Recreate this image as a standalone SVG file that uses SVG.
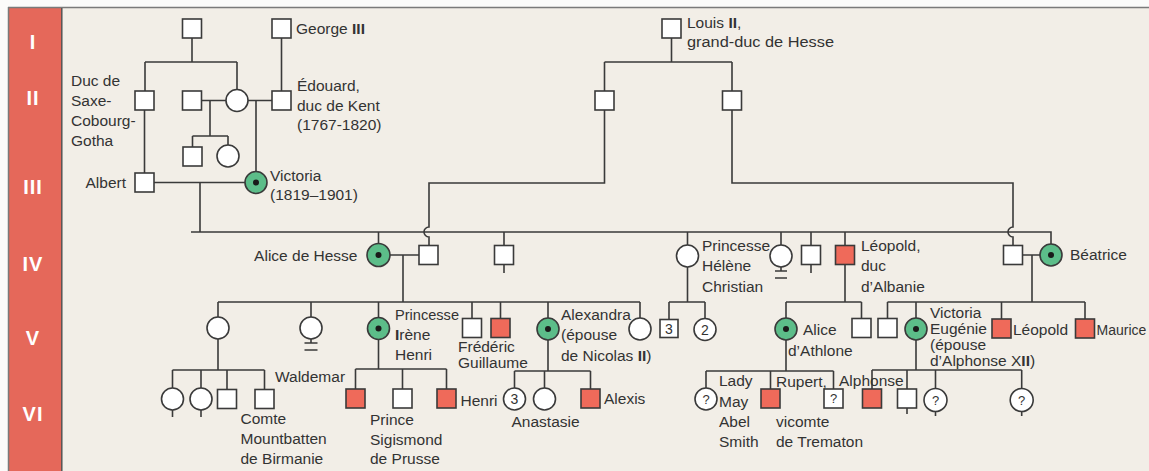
<svg xmlns="http://www.w3.org/2000/svg" width="1149" height="471" viewBox="0 0 1149 471">
<style>
.ln{fill:none;stroke:#3a3a3a;stroke-width:1.6}
.n{fill:#fff;stroke:#3a3a3a;stroke-width:1.6}
.aff{fill:#EF6A5A}
.car{fill:#5CBD89}
.dot{fill:#1a1a1a}
text{font-family:"Liberation Sans",Arial,Helvetica,sans-serif;font-size:15.5px;fill:#333}
.gen{fill:#fff;font-size:20px;font-weight:bold;text-anchor:middle;letter-spacing:1px}
.sym{font-size:14px;text-anchor:middle}
.q{font-size:13px;text-anchor:middle}
.end{text-anchor:end}
</style>
<rect x="0" y="0" width="1149" height="471" fill="#fbfbfa"/>
<rect x="62" y="8" width="1087" height="463" fill="#F2EEE7"/>
<rect x="9" y="8" width="53" height="463" fill="#E5685A"/>
<path d="M8,7.5 H1149 M8.5,7 V471" stroke="#7a7a7a" stroke-width="1.5" fill="none"/>
<path d="M61.8,8 V471" stroke="#555" stroke-width="1.5" fill="none"/>
<g id="generations">
<text class="gen" x="33" y="49">I</text>
<text class="gen" x="33" y="105">II</text>
<text class="gen" x="33" y="194">III</text>
<text class="gen" x="33" y="270.5">IV</text>
<text class="gen" x="33" y="345">V</text>
<text class="gen" x="33" y="420.5">VI</text>
</g>
<g id="connectors" class="ln">
<path d="M192,38 V62 M145,62 H237 M145,62 V91 M237,62 V89.5"/>
<path d="M281.5,38 V91"/>
<path d="M201.5,100.5 H226 M210,100.5 V136 M192.5,136 H228 M192.5,136 V147 M228,136 V145"/>
<path d="M248,100.5 H272 M256,100.5 V171.5"/>
<path d="M144.5,110 V173"/>
<path d="M154,182.5 H245 M200,182.5 V232"/>
<path d="M191,232 H1051 V244 M378.5,232 V243.5 M504,232 V245.5 M687.5,232 V245 M781,232 V245 M811,232 V245.5 M845,232 V245.5"/>
<path d="M671.5,38 V62 M604.5,62 H732 M604.5,62 V91 M732,62 V91"/>
<path d="M604.5,110 V183 H429 V227 A5,5 0 0 0 429,237 V245.5"/>
<path d="M732,110 V183 H1013 V227 A5,5 0 0 0 1013,237 V245.5"/>
<path d="M390,255 H419 M403,255 V302"/>
<path d="M218,302 H640 M218,302 V317 M311,302 V317 M378.5,302 V317.5 M472,302 V318.5 M500.5,302 V318.5 M548,302 V318 M640,302 V318"/>
<path d="M687.5,267 V302 M669,302 H705 M669,302 V319.5 M705,302 V318.5"/>
<path d="M845,264.5 V302 M786,302 H861.5 M786,302 V318 M861.5,302 V318.5"/>
<path d="M1023,255 H1040 M1032,255 V302 M887.5,302 H1085 M887.5,302 V318.5 M916,302 V318 M1001.5,302 V319 M1085,302 V319"/>
<path d="M218,339 V370 M172.5,370 H264.5 M172.5,370 V388 M201,370 V388 M227,370 V389.5 M264.5,370 V389.5"/>
<path d="M378.5,340 V369 M355.5,369 H446.5 M355.5,369 V389 M402.5,369 V389 M446.5,369 V389"/>
<path d="M548,340 V371 M514.5,371 H590.5 M514.5,371 V388 M544.5,371 V388 M590.5,371 V389"/>
<path d="M786,340 V371 M706,371 H833.5 M706,371 V388 M770.5,371 V389 M833.5,371 V389"/>
<path d="M916,340 V370 M872,370 H1021.7 M872,370 V389 M907,370 V389 M935.5,370 V389 M1021.7,370 V389"/>
</g>
<g id="n-gen1-father"><rect class="n" x="182.5" y="19" width="19" height="19"/></g>
<g id="n-george3"><rect class="n" x="272" y="19" width="19" height="19"/><text x="296" y="33.5">George <tspan font-weight="bold">III</tspan></text></g>
<g id="n-louis2"><rect class="n" x="662" y="19" width="19" height="19"/><text x="687" y="27.5">Louis <tspan font-weight="bold">II</tspan>,</text><text x="687" y="47" textLength="147" lengthAdjust="spacingAndGlyphs">grand-duc de Hesse</text></g>
<g id="n-duc-saxe"><rect class="n" x="135" y="91" width="19" height="19"/><text x="71" y="85.5">Duc de</text><text x="71" y="105.5">Saxe-</text><text x="71" y="125.5">Cobourg-</text><text x="71" y="145.5">Gotha</text></g>
<g id="n-first-husband"><rect class="n" x="182.5" y="91" width="19" height="19"/></g>
<g id="n-victoria-mother"><circle class="n" cx="237" cy="100.5" r="11"/></g>
<g id="n-edouard"><rect class="n" x="272" y="91" width="19" height="19"/><text x="297" y="91">Édouard,</text><text x="297" y="110.5">duc de Kent</text><text x="297" y="130">(1767-1820)</text></g>
<g id="n-hesse1"><rect class="n" x="595" y="91" width="19" height="19"/></g>
<g id="n-hesse2"><rect class="n" x="722.5" y="91" width="19" height="19"/></g>
<g id="n-halfbrother"><rect class="n" x="183" y="147" width="19" height="19"/></g>
<g id="n-halfsister"><circle class="n" cx="228" cy="156" r="11"/></g>
<g id="n-albert"><rect class="n" x="135" y="173" width="19" height="19"/><text class="end" x="126" y="187.5">Albert</text></g>
<g id="n-victoria"><circle class="n car" cx="256" cy="182.5" r="11"/><circle class="dot" cx="256" cy="182.5" r="3"/><text x="270" y="180.5">Victoria</text><text x="270" y="200">(1819–1901)</text></g>
<g id="n-alice-hesse"><circle class="n car" cx="378.5" cy="255" r="11.5"/><circle class="dot" cx="378.5" cy="255" r="3"/><text class="end" x="357.5" y="260.5">Alice de Hesse</text></g>
<g id="n-alice-husband"><rect class="n" x="419" y="245.5" width="19" height="19"/></g>
<g id="n-son-iv"><rect class="n" x="494.5" y="245.5" width="19" height="19"/><path class="ln" d="M504,264.5 V273"/></g>
<g id="n-helene"><circle class="n" cx="687.5" cy="256" r="11"/><text x="702" y="250.5">Princesse</text><text x="702" y="271">Hélène</text><text x="702" y="291.5">Christian</text></g>
<g id="n-daughter-iv"><circle class="n" cx="781" cy="256" r="11"/><path class="ln" d="M781,267 V271 M775,271 H787 M775,278 H787"/></g>
<g id="n-son2-iv"><rect class="n" x="801.5" y="245.5" width="19" height="19"/><path class="ln" d="M811,264.5 V273"/></g>
<g id="n-leopold"><rect class="n aff" x="835.5" y="245.5" width="19" height="19"/><text x="861" y="250.5">Léopold,</text><text x="861" y="271">duc</text><text x="861" y="291.5">d’Albanie</text></g>
<g id="n-beatrice-husband"><rect class="n" x="1003.5" y="245.5" width="19" height="19"/></g>
<g id="n-beatrice"><circle class="n car" cx="1051" cy="255" r="11"/><circle class="dot" cx="1051" cy="255" r="3"/><text x="1070" y="260">Béatrice</text></g>
<g id="n-v-daughter1"><circle class="n" cx="218" cy="328" r="11"/></g>
<g id="n-v-daughter2"><circle class="n" cx="311" cy="328" r="11"/><path class="ln" d="M311,339 V343 M304.5,343 H317.5 M304.5,350 H317.5"/></g>
<g id="n-irene"><circle class="n car" cx="378.5" cy="328.5" r="11"/><circle class="dot" cx="378.5" cy="328.5" r="3"/><text x="395" y="320" textLength="64" lengthAdjust="spacingAndGlyphs">Princesse</text><text x="395" y="340"><tspan font-weight="bold">I</tspan>rène</text><text x="395" y="360">Henri</text></g>
<g id="n-v-son1"><rect class="n" x="462.5" y="318.5" width="19" height="19"/><text x="458" y="352">Frédéric</text><text x="458" y="368">Guillaume</text></g>
<g id="n-frederic"><rect class="n aff" x="491" y="318.5" width="19" height="19"/></g>
<g id="n-alexandra"><circle class="n car" cx="548" cy="329" r="11"/><circle class="dot" cx="548" cy="329" r="3"/><text x="561" y="320">Alexandra</text><text x="561" y="340">(épouse</text><text x="561" y="360.5">de Nicolas <tspan font-weight="bold">II</tspan>)</text></g>
<g id="n-v-daughter3"><circle class="n" cx="640" cy="329" r="11"/></g>
<g id="n-helene-sons"><rect class="n" x="660" y="319.5" width="18" height="18"/><text class="sym" x="669" y="334">3</text></g>
<g id="n-helene-daughters"><circle class="n" cx="705" cy="329.5" r="11"/><text class="sym" x="705" y="334.5">2</text></g>
<g id="n-alice-athlone"><circle class="n car" cx="786" cy="329" r="11"/><circle class="dot" cx="786" cy="329" r="3"/><text x="803" y="335">Alice</text><text x="788" y="355.5">d’Athlone</text></g>
<g id="n-leopold-son"><rect class="n" x="852" y="318.5" width="19" height="19"/></g>
<g id="n-beatrice-son1"><rect class="n" x="878" y="318.5" width="19" height="19"/></g>
<g id="n-victoria-eugenie"><circle class="n car" cx="916" cy="329" r="11"/><circle class="dot" cx="916" cy="329" r="3"/><text x="930" y="318">Victoria</text><text x="930" y="334">Eugénie</text><text x="930" y="350">(épouse</text><text x="930" y="366">d’Alphonse X<tspan font-weight="bold">II</tspan>)</text></g>
<g id="n-leopold2"><rect class="n aff" x="992" y="319" width="19" height="19"/><text x="1013" y="334.5">Léopold</text></g>
<g id="n-maurice"><rect class="n aff" x="1075.5" y="319" width="19" height="19"/><text x="1096.5" y="334.5" style="font-size:14px">Maurice</text></g>
<g id="n-vi-d1"><circle class="n" cx="172.5" cy="399" r="11"/><path class="ln" d="M172.5,410 V417"/></g>
<g id="n-vi-d2"><circle class="n" cx="201" cy="399" r="11"/><path class="ln" d="M201,410 V417"/></g>
<g id="n-vi-s1"><rect class="n" x="217.5" y="389.5" width="19" height="19"/></g>
<g id="n-mountbatten"><rect class="n" x="255" y="389.5" width="19" height="19"/><text x="240.5" y="424">Comte</text><text x="240.5" y="444">Mountbatten</text><text x="240.5" y="464">de Birmanie</text></g>
<g id="n-waldemar"><rect class="n aff" x="346" y="389" width="19" height="19"/><text x="275" y="382">Waldemar</text></g>
<g id="n-sigismond"><rect class="n" x="393" y="389" width="19" height="19"/><text x="370" y="424.5">Prince</text><text x="370" y="444.5">Sigismond</text><text x="370" y="464">de Prusse</text></g>
<g id="n-henri"><rect class="n aff" x="437" y="389" width="19" height="19"/><text x="460.5" y="405.5">Henri</text></g>
<g id="n-tsar-daughters"><circle class="n" cx="514.5" cy="399" r="11"/><text class="sym" x="514.5" y="404">3</text></g>
<g id="n-anastasie"><circle class="n" cx="544.5" cy="399" r="11"/><text x="511.5" y="427">Anastasie</text></g>
<g id="n-alexis"><rect class="n aff" x="581" y="389" width="19" height="19"/><text x="604" y="403.5">Alexis</text></g>
<g id="n-lady-may"><circle class="n" cx="706" cy="399" r="11"/><text class="q" x="706" y="403.5">?</text><text x="719" y="386">Lady</text><text x="719" y="406.5">May</text><text x="719" y="427">Abel</text><text x="719" y="447">Smith</text></g>
<g id="n-rupert"><rect class="n aff" x="761" y="389" width="19" height="19"/><text x="776" y="386.5">Rupert,</text><text x="776" y="427">vicomte</text><text x="776" y="447">de Trematon</text></g>
<g id="n-athlone-son"><rect class="n" x="824" y="389" width="19" height="19"/><text class="q" x="833.5" y="403">?</text></g>
<g id="n-alphonse"><rect class="n aff" x="862.5" y="389" width="19" height="19"/><text x="839" y="386">Alphonse</text></g>
<g id="n-ve-son2"><rect class="n" x="897.5" y="389" width="19" height="19"/><path class="ln" d="M907,408 V414"/></g>
<g id="n-ve-d1"><circle class="n" cx="935.5" cy="400" r="11.5"/><text class="q" x="935.5" y="404.5">?</text><path class="ln" d="M935.5,411.5 V416"/></g>
<g id="n-ve-d2"><circle class="n" cx="1021.7" cy="400" r="11.5"/><text class="q" x="1021.7" y="404.5">?</text><path class="ln" d="M1021.7,411.5 V416"/></g>
</svg>
